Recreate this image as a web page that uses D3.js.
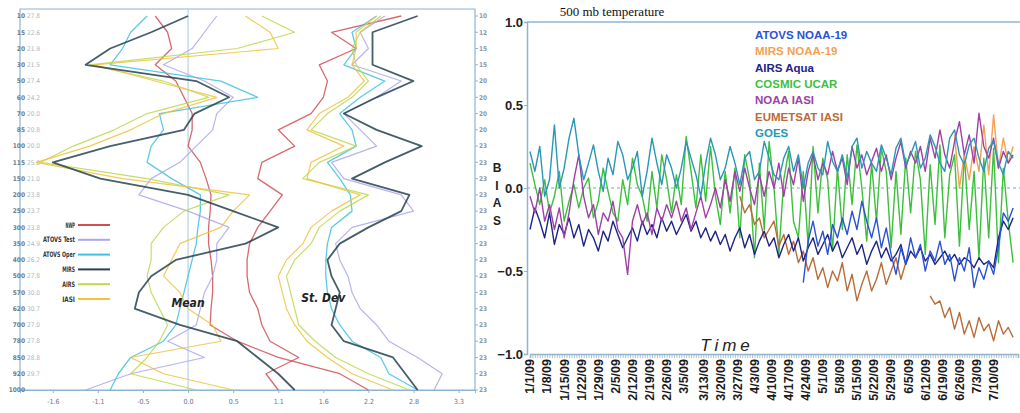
<!DOCTYPE html>
<html>
<head>
<meta charset="utf-8">
<script src="https://cdn.jsdelivr.net/npm/d3@7"></script>
<style>
  body { margin: 0; background: #fff; }
  svg { display: block; font-family: Arial, "Liberation Sans", sans-serif; }
</style>
</head>
<body>
<svg width="1020" height="413"></svg>
<script>
// ---------- left panel: vertical profiles ----------
var levels = [10, 15, 20, 30, 50, 60, 70, 85, 100, 115, 150, 200, 250, 300, 350, 400, 500, 570, 620, 700, 780, 850, 920, 1000];
var levelNotes = ["27.8", "22.6", "21.9", "21.5", "27.4", "24.2", "20.0", "20.8", "20.0", "25.0", "21.0", "23.8", "23.7", "23.8", "24.9", "26.2", "27.8", "30.0", "30.7", "27.0", "27.8", "28.8", "29.7", ""];
var levelCounts = ["10", "12", "15", "15", "20", "20", "20", "20", "23", "23", "23", "23", "23", "23", "23", "23", "23", "23", "23", "23", "23", "23", "23", "23"];
var profileTicks = [-1.65, -1.1, -0.55, 0, 0.55, 1.1, 1.65, 2.2, 2.75, 3.3];
var profileTickLabels = ["-1.6", "-1.1", "-0.5", "0.0", "0.5", "1.1", "1.6", "2.2", "2.8", "3.3"];
var profileNames = ["NWP", "ATOVS Test", "ATOVS Oper", "MIRS", "AIRS", "IASI"];

var nwpMean = [-0.4, -0.25, -0.2, -0.4, -0.15, -0.05, 0.05, 0.05, 0.0, 0.15, 0.22, 0.28, 0.27, 0.25, 0.25, 0.28, 0.3, 0.3, 0.28, 0.27, 0.6, 1.1, 1.85, 2.2];
var atovsTestMean = [0.35, 0.2, 0.05, -0.3, 0.2, 0.55, 0.35, 0.3, 0.1, -0.1, -0.45, -0.6, 0.0, 0.5, 0.35, 0.35, 0.3, 0.2, 0.15, 0.1, -0.25, 0.2, -0.7, -1.25];
var atovsOperMean = [-0.5, -0.7, -0.8, -0.95, 0.4, 0.85, -0.35, -0.3, -0.45, -0.5, -0.2, 0.15, 0.15, 0.12, 0.1, 0.05, 0.0, -0.05, -0.1, -0.15, -0.3, -0.7, -0.85, -0.95];
var mirsMean = [0.0, -0.45, -0.95, -1.25, 0.1, 0.5, 0.08, -0.05, -0.95, -1.65, -1.07, 0.0, 0.55, 1.1, 0.7, -0.15, -0.45, -0.6, -0.65, -0.1, 0.6, 0.85, 1.1, 1.3];
var airsMean = [0.9, 1.3, 0.6, -1.2, -0.3, 0.25, -0.5, -0.9, -1.4, -1.8, -0.5, 0.5, -0.05, -0.3, -0.45, -0.45, -0.5, -0.45, -0.35, -0.25, -0.35, -0.5, -0.7, 0.1];
var iasiMean = [0.7, 1.0, 1.1, -1.15, -0.4, 0.35, -0.3, -0.7, -1.2, -1.85, -0.8, 0.75, 0.55, 0.4, -0.1, -0.2, -0.3, -0.1, 0.0, 0.3, 0.4, -0.7, -0.3, 0.55];

var nwpSd = [2.6, 1.75, 2.05, 1.6, 1.7, 1.65, 1.5, 1.1, 1.3, 0.9, 0.85, 1.15, 1.0, 0.85, 0.75, 0.72, 0.72, 0.75, 0.85, 0.9, 1.0, 1.35, 0.95, 1.1];
var atovsTestSd = [2.4, 2.1, 2.2, 2.0, 2.6, 2.3, 1.9, 2.1, 2.3, 1.75, 1.9, 2.6, 2.75, 2.0, 1.8, 1.85, 1.95, 2.0, 2.1, 2.3, 2.45, 2.8, 3.1, 3.0];
var atovsOperSd = [2.3, 2.0, 2.05, 1.9, 2.4, 2.1, 1.85, 2.0, 2.05, 1.7, 1.85, 1.98, 2.0, 1.75, 1.7, 1.68, 1.68, 1.7, 1.75, 1.85, 2.0, 2.35, 2.45, 2.8];
var mirsSd = [2.8, 2.25, 2.25, 2.25, 2.75, 2.3, 1.9, 2.3, 2.85, 2.4, 2.0, 2.7, 2.6, 2.2, 1.85, 1.7, 1.75, 1.85, 1.8, 1.75, 1.9, 2.5, 2.65, 2.8];
var airsSd = [2.35, 2.1, 2.0, 2.05, 2.2, 2.0, 1.7, 1.5, 2.05, 1.6, 1.4, 2.2, 1.85, 1.6, 1.5, 1.3, 1.2, 1.25, 1.3, 1.35, 1.55, 1.8, 2.2, 2.7];
var iasiSd = [2.3, 2.05, 2.05, 2.0, 2.15, 1.95, 1.6, 1.45, 1.9, 1.5, 1.45, 2.1, 1.75, 1.5, 1.4, 1.2, 1.1, 1.15, 1.2, 1.3, 1.45, 1.7, 2.0, 2.5];

// ---------- right panel: 500 mb temperature bias time series (every 2 days) ----------
var dateLabels = ["1/1/09", "1/8/09", "1/15/09", "1/22/09", "1/29/09", "2/5/09", "2/12/09", "2/19/09", "2/26/09", "3/5/09", "3/13/09", "3/20/09", "3/27/09", "4/3/09", "4/10/09", "4/17/09", "4/24/09", "5/1/09", "5/8/09", "5/15/09", "5/22/09", "5/29/09", "6/5/09", "6/12/09", "6/19/09", "6/26/09", "7/3/09", "7/10/09"];
var biasTicks = [-1.0, -0.5, 0.0, 0.5, 1.0];
var seriesNames = ["ATOVS NOAA-19", "MIRS NOAA-19", "AIRS Aqua", "COSMIC UCAR", "NOAA IASI", "EUMETSAT IASI", "GOES"];

var fullStart = "1/1/09";
var goes = [0.22, 0.1, 0.25, -0.05, 0.05, 0.38, 0.0, 0.12, 0.3, 0.42,
  0.2, 0.05, 0.15, 0.26, 0.1, -0.02, 0.18, 0.08, 0.28, 0.2,
  0.05, 0.12, 0.22, -0.05, 0.1, 0.3, 0.15, 0.02, 0.2, 0.12,
  0.0, 0.12, 0.28, 0.18, 0.08, -0.05, 0.15, 0.3, 0.2, 0.05,
  0.12, 0.25, 0.15, 0.02, 0.18, 0.22, 0.05, 0.1, 0.28, 0.18,
  0.08, 0.05, 0.18, 0.25, 0.1, 0.2, 0.0, 0.15, 0.22, 0.12,
  0.08, 0.28, 0.16, 0.1, 0.2, 0.06, 0.25, 0.3, 0.12, 0.22,
  0.15, 0.1, 0.26, 0.18, 0.08, 0.24, 0.3, 0.14, 0.2, 0.28,
  0.12, 0.18, 0.32, 0.25, 0.15, 0.1, 0.3, 0.35, 0.2, 0.14,
  0.26, 0.3, 0.18, 0.1, 0.24, 0.28, 0.15, 0.08, 0.22, 0.18];
var airsAqua = [-0.25, -0.12, -0.2, -0.3, -0.15, -0.34, -0.22, -0.28, -0.18, -0.3,
  -0.22, -0.35, -0.25, -0.3, -0.38, -0.26, -0.32, -0.2, -0.28, -0.36,
  -0.3, -0.24, -0.32, -0.2, -0.28, -0.22, -0.3, -0.18, -0.26, -0.2,
  -0.28, -0.22, -0.16, -0.26, -0.2, -0.3, -0.24, -0.32, -0.26, -0.34,
  -0.28, -0.38, -0.3, -0.24, -0.36, -0.28, -0.4, -0.32, -0.26, -0.35,
  -0.3, -0.42, -0.34, -0.28, -0.38, -0.3, -0.44, -0.36, -0.3, -0.4,
  -0.34, -0.28, -0.38, -0.32, -0.42, -0.36, -0.3, -0.4, -0.34, -0.46,
  -0.38, -0.32, -0.42, -0.36, -0.44, -0.4, -0.34, -0.46, -0.38, -0.42,
  -0.36, -0.44, -0.4, -0.46, -0.42, -0.38, -0.44, -0.4, -0.46, -0.42,
  -0.44, -0.48, -0.42, -0.46, -0.44, -0.48, -0.3, -0.2, -0.25, -0.18];
var cosmic = [0.15, 0.02, -0.1, 0.05, -0.15, -0.05, 0.1, -0.2, -0.08, 0.02,
  -0.12, 0.0, 0.06, -0.18, -0.08, 0.12, -0.02, -0.15, -0.2, 0.05,
  -0.1, 0.18, 0.02, -0.05, -0.2, 0.1, -0.12, 0.2, 0.05, -0.15,
  0.08, -0.1, 0.31, 0.1, -0.12, 0.2, -0.08, 0.25, -0.05, -0.22,
  0.1, -0.15, 0.12, -0.3, 0.2, 0.05, -0.42, 0.15, -0.25, 0.28,
  0.0, -0.4, 0.05, 0.22, -0.2, -0.3, 0.1, -0.35, 0.25, -0.15,
  0.18, 0.05, -0.38, 0.12, -0.25, 0.2, -0.1, 0.26, 0.0, -0.32,
  0.15, -0.2, 0.24, 0.1, -0.36, 0.1, -0.28, 0.18, -0.15, 0.22,
  0.05, -0.4, 0.14, -0.22, 0.26, -0.3, 0.08, 0.2, -0.35, 0.2,
  -0.25, 0.1, -0.42, 0.18, -0.3, 0.24, -0.45, 0.12, -0.2, -0.45];
var noaaIasi = [-0.05, -0.15, 0.0, -0.2, -0.1, -0.25, -0.12, -0.3, -0.15, 0.05,
  0.2, -0.05, -0.18, -0.1, -0.28, -0.15, -0.2, -0.08, -0.25, -0.3,
  -0.52, -0.2, -0.1, -0.22, -0.15, -0.28, -0.12, -0.2, -0.1, -0.18,
  -0.08, -0.2, -0.12, -0.25, -0.15, -0.05, -0.18, -0.1, 0.0, -0.12,
  0.05, -0.08, 0.1, -0.02, 0.12, 0.0, -0.1, 0.08, -0.05, 0.1,
  0.0, 0.15, -0.05, 0.12, 0.02, 0.18, -0.08, 0.1, 0.2, 0.05,
  0.15, 0.08, 0.22, 0.1, 0.18, 0.02, 0.25, 0.12, 0.2, 0.08,
  0.16, 0.24, 0.1, 0.2, 0.05, 0.18, 0.28, 0.12, 0.22, 0.15,
  0.25, 0.1, 0.3, 0.18, 0.35, 0.2, 0.12, 0.28, 0.4, 0.2,
  0.32, 0.15, 0.45, 0.25, 0.18, 0.3, 0.12, 0.22, 0.15, 0.2];

var atovsStart = "4/23/09";
var atovsN19 = [-0.57, -0.32, -0.2, -0.35, -0.26, -0.4, -0.22, -0.3, -0.18, -0.28,
  -0.14, -0.25, -0.08, -0.2, -0.3, -0.18, -0.36, -0.24, -0.4, -0.52,
  -0.36, -0.46, -0.3, -0.42, -0.34, -0.5, -0.38, -0.44, -0.32, -0.46,
  -0.4, -0.56, -0.42, -0.5, -0.36, -0.6, -0.48, -0.55, -0.44, -0.52,
  -0.35, -0.15, -0.2, -0.12];

var eumetStart = "3/28/09";
var eumetIasi = [-0.05, -0.15, -0.1, -0.22, -0.18, -0.3, -0.25, -0.2, -0.35, -0.28,
  -0.4, -0.32, -0.45, -0.38, -0.5, -0.42, -0.55, -0.48, -0.6, -0.5,
  -0.56, -0.45, -0.62, -0.52, -0.68, -0.58, -0.5, -0.62, -0.55, -0.45,
  -0.58, -0.5, -0.42, -0.55, -0.45,
  null, null, null, null,
  -0.65, -0.7, -0.68, -0.78, -0.72, -0.85, -0.75, -0.88, -0.8, -0.9,
  -0.78, -0.86, -0.82, -0.92, -0.8, -0.88, -0.84, -0.9];

var mirsStart = "6/24/09";
var mirsN19 = [0.32, 0.0, 0.2, 0.05, 0.25, 0.1, 0.38, 0.08, 0.44, 0.12, 0.3, 0.15, 0.25];

// ---------- drawing ----------
var svg = d3.select("svg");
var axisColor = "#8fb4d2";
var narrow = "'Liberation Sans Narrow', 'DejaVu Sans Condensed', sans-serif";

/* left panel */
var px = d3.scaleLinear().domain([-2.05, 3.5]).range([20, 475]);
var py = d3.scalePoint().domain(levels).range([16, 390]);
var left = svg.append("g");

left.append("path")
  .attr("d", "M" + px.range()[0] + "," + 9 + "H" + px.range()[1] + "V" + py.range()[1] + "H" + px.range()[0] + "Z")
  .attr("fill", "none").attr("stroke", axisColor).attr("stroke-width", 1.2);

left.append("line")
  .attr("x1", px(0)).attr("x2", px(0)).attr("y1", 9).attr("y2", py.range()[1])
  .attr("stroke", "#a9cbe4").attr("stroke-width", 1);

var pxAxis = left.append("g")
  .attr("transform", "translate(0," + py.range()[1] + ")")
  .call(d3.axisBottom(px).tickValues(profileTicks)
    .tickFormat(function(d, i) { return profileTickLabels[i]; }).tickSize(3));
pxAxis.select(".domain").attr("stroke", axisColor);
pxAxis.selectAll(".tick line").attr("stroke", axisColor);
pxAxis.selectAll("text").attr("fill", "#6b7480").attr("font-size", 7)
  .attr("font-family", narrow).attr("dy", "1.1em");

var lvl = left.selectAll(".lvl").data(levels).enter().append("g")
  .attr("transform", function(d) { return "translate(0," + py(d) + ")"; })
  .attr("font-family", narrow)
  .attr("font-size", 6.5);
lvl.append("text").attr("x", 25).attr("dy", "0.35em").attr("text-anchor", "end")
  .attr("fill", "#6f7c8e").attr("font-weight", "bold").text(function(d) { return d; });
lvl.append("text").attr("x", 27).attr("dy", "0.35em")
  .attr("fill", "#aeb7c3").text(function(d, i) { return levelNotes[i]; });
lvl.append("text").attr("x", 479).attr("dy", "0.35em")
  .attr("fill", "#8b97a6").attr("font-weight", "bold").text(function(d, i) { return levelCounts[i]; });
lvl.append("line").attr("x1", 475).attr("x2", 478).attr("stroke", axisColor);

var profiles = [
  {name: "NWP", color: "#cf4f55", w: 1.3, mean: nwpMean, sd: nwpSd},
  {name: "ATOVS Test", color: "#aba6ec", w: 1.2, mean: atovsTestMean, sd: atovsTestSd},
  {name: "ATOVS Oper", color: "#3fc1e3", w: 1.3, mean: atovsOperMean, sd: atovsOperSd},
  {name: "AIRS", color: "#bcd84e", w: 1.2, mean: airsMean, sd: airsSd},
  {name: "IASI", color: "#f0c23e", w: 1.2, mean: iasiMean, sd: iasiSd},
  {name: "MIRS", color: "#24424f", w: 1.8, mean: mirsMean, sd: mirsSd}
];
var profLine = d3.line()
  .x(function(d) { return px(d[1]); })
  .y(function(d) { return py(d[0]); });

profiles.forEach(function(p) {
  ["mean", "sd"].forEach(function(k) {
    left.append("path")
      .datum(levels.map(function(l, i) { return [l, p[k][i]]; }))
      .attr("d", profLine)
      .attr("fill", "none").attr("stroke", p.color)
      .attr("stroke-width", p.w).attr("stroke-opacity", 0.85)
      .attr("stroke-linejoin", "round");
  });
});

var profColor = {};
profiles.forEach(function(p) { profColor[p.name] = p.color; });
var leg = left.selectAll(".pleg").data(profileNames).enter().append("g")
  .attr("transform", function(d, i) { return "translate(0," + (225 + i * 14.8) + ")"; });
leg.append("line").attr("x1", 78).attr("x2", 110)
  .attr("stroke", function(d) { return profColor[d]; }).attr("stroke-width", 2);
leg.append("text").attr("x", 75).attr("dy", "0.35em").attr("text-anchor", "end")
  .attr("font-family", narrow)
  .attr("font-size", 7.5).attr("font-weight", "bold").attr("fill", "#333")
  .attr("textLength", function(d) { return d.length * 3.2; })
  .attr("lengthAdjust", "spacingAndGlyphs")
  .text(function(d) { return d; });

left.append("text").attr("x", px(0)).attr("y", 307).attr("text-anchor", "middle")
  .attr("font-family", narrow)
  .attr("font-size", 12).attr("font-style", "italic").attr("font-weight", "bold")
  .attr("fill", "#222").text("Mean");
left.append("text").attr("x", px(1.65)).attr("y", 302).attr("text-anchor", "middle")
  .attr("font-family", narrow)
  .attr("font-size", 12).attr("font-style", "italic").attr("font-weight", "bold")
  .attr("fill", "#222").text("St. Dev");

/* right panel */
var parse = d3.timeParse("%-m/%-d/%y");
var tx = d3.scaleTime().domain([new Date(2009, 0, 1), new Date(2009, 6, 20)]).range([530, 1018]);
var ty = d3.scaleLinear().domain([-1, 1]).range([354, 22]);
var right = svg.append("g");

right.append("text").attr("x", 612).attr("y", 16).attr("text-anchor", "middle")
  .attr("font-family", "'Liberation Serif', 'Times New Roman', serif")
  .attr("font-size", 13).attr("fill", "#111").text("500 mb temperature");

right.append("line").attr("x1", 527).attr("x2", 1020).attr("y1", ty(1)).attr("y2", ty(1))
  .attr("stroke", axisColor).attr("stroke-width", 1.5);

right.append("line").attr("x1", 527).attr("x2", 1020).attr("y1", ty(0)).attr("y2", ty(0))
  .attr("stroke", "#7aa4bc").attr("stroke-dasharray", "3,3").attr("stroke-width", 1);

var yAx = right.append("g").attr("transform", "translate(527,0)")
  .call(d3.axisLeft(ty).tickValues(biasTicks).tickFormat(d3.format(".1f")).tickSize(3));
yAx.select(".domain").attr("stroke", axisColor).attr("stroke-width", 1.5);
yAx.selectAll(".tick line").attr("stroke", axisColor);
yAx.selectAll("text").attr("font-size", 13).attr("font-weight", "bold").attr("fill", "#222")
  .attr("font-family", "Arial, 'Liberation Sans', sans-serif").attr("x", -4);

var xAx = right.append("g").attr("transform", "translate(0," + ty(-1) + ")")
  .call(d3.axisBottom(tx).ticks(d3.timeDay.every(1)).tickFormat("").tickSize(4));
xAx.select(".domain").attr("stroke", axisColor).attr("stroke-width", 1.5);
xAx.selectAll(".tick line").attr("stroke", "#9cb3c6").attr("stroke-width", 0.8);

right.selectAll(".dlab").data(dateLabels).enter().append("text")
  .attr("transform", function(d) { return "translate(" + tx(parse(d)) + ",359) rotate(-90)"; })
  .attr("dy", "0.35em").attr("text-anchor", "end")
  .attr("font-size", 12.5).attr("font-weight", "bold").attr("fill", "#1a1a1a")
  .text(function(d) { return d; });

right.selectAll(".bias").data(["B", "I", "A", "S"]).enter().append("text")
  .attr("x", 497).attr("y", function(d, i) { return 172 + i * 17.5; })
  .attr("text-anchor", "middle").attr("font-size", 12).attr("font-weight", "bold")
  .attr("fill", "#222").text(function(d) { return d; });

right.append("text").attr("x", 727).attr("y", 351).attr("text-anchor", "middle")
  .attr("font-size", 17).attr("font-style", "italic").attr("letter-spacing", 4)
  .attr("fill", "#222").text("Time");

function toPoints(values, start) {
  var s = parse(start);
  return values.map(function(v, i) { return {date: d3.timeDay.offset(s, 2 * i), value: v}; });
}
var tsLine = d3.line()
  .defined(function(d) { return d.value !== null; })
  .x(function(d) { return tx(d.date); })
  .y(function(d) { return ty(d.value); });

var series = [
  {name: "COSMIC UCAR", color: "#3dbf3d", values: cosmic, start: fullStart},
  {name: "EUMETSAT IASI", color: "#b96c39", values: eumetIasi, start: eumetStart},
  {name: "MIRS NOAA-19", color: "#f5a152", values: mirsN19, start: mirsStart},
  {name: "AIRS Aqua", color: "#1d2488", values: airsAqua, start: fullStart},
  {name: "ATOVS NOAA-19", color: "#2b52d6", values: atovsN19, start: atovsStart},
  {name: "NOAA IASI", color: "#a03fa6", values: noaaIasi, start: fullStart},
  {name: "GOES", color: "#2897b8", values: goes, start: fullStart}
];
series.forEach(function(s) {
  right.append("path")
    .datum(toPoints(s.values, s.start))
    .attr("d", tsLine)
    .attr("fill", "none").attr("stroke", s.color).attr("stroke-width", 1.4)
    .attr("stroke-linejoin", "round");
});

var sColor = {};
series.forEach(function(s) { sColor[s.name] = s.color; });
right.selectAll(".sleg").data(seriesNames).enter().append("text")
  .attr("x", 755).attr("y", function(d, i) { return 39 + i * 16.3; })
  .attr("font-size", 11.5).attr("font-weight", "bold")
  .attr("fill", function(d) { return sColor[d]; })
  .text(function(d) { return d; });
</script>
</body>
</html>
